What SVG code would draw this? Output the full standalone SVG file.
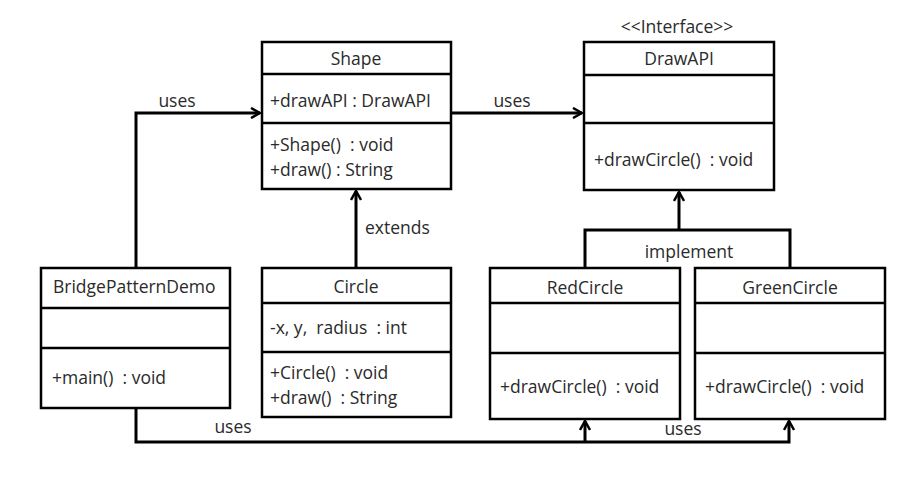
<svg xmlns="http://www.w3.org/2000/svg" width="913" height="482" viewBox="0 0 913 482">
  <style>
    .box { fill: #ffffff; stroke: #000000; stroke-width: 2.5; }
    .div { stroke: #000000; stroke-width: 2.5; }
    .wire { fill: none; stroke: #000000; stroke-width: 3; }
    text { font-family: "Open Sans", "Liberation Sans", sans-serif; font-size: 17.5px; fill: #2a2a2a; white-space: pre; }
    .title { text-anchor: middle; }
  </style>
  <defs>
    <marker id="arrow" viewBox="0 0 12 12" refX="11" refY="6" markerWidth="12" markerHeight="12" markerUnits="userSpaceOnUse" orient="auto">
      <path d="M2,1 L11,6 L2,11" fill="none" stroke="#000000" stroke-width="2.5"/>
    </marker>
  </defs>

  <rect width="913" height="482" fill="#ffffff"/>

  <g id="connectors">
    <!-- BridgePatternDemo uses Shape -->
    <path class="wire" d="M136,268 V113 H260" marker-end="url(#arrow)"/>
    <text x="177" y="107" class="title">uses</text>
    <!-- Shape uses DrawAPI -->
    <path class="wire" d="M451,113 H582" marker-end="url(#arrow)"/>
    <text x="512" y="107" class="title">uses</text>
    <!-- Circle extends Shape -->
    <path class="wire" d="M356,268 V191" marker-end="url(#arrow)"/>
    <text x="365" y="234">extends</text>
    <!-- implementations of DrawAPI -->
    <path class="wire" d="M585,268 V230 H790 V268"/>
    <path class="wire" d="M679,230 V192" marker-end="url(#arrow)"/>
    <text x="689" y="258" class="title">implement</text>
    <!-- BridgePatternDemo uses the concrete circles -->
    <path class="wire" d="M136,408 V442 H789 V421" marker-end="url(#arrow)"/>
    <path class="wire" d="M585,442 V421" marker-end="url(#arrow)"/>
    <text x="233" y="433" class="title">uses</text>
    <text x="683" y="435" class="title">uses</text>
  </g>

  <g id="shape">
    <rect class="box" x="262" y="42" width="189" height="147"/>
    <line class="div" x1="262" y1="74" x2="451" y2="74"/>
    <line class="div" x1="262" y1="123" x2="451" y2="123"/>
    <text x="356" y="65" class="title">Shape</text>
    <text x="270" y="107">+drawAPI : DrawAPI</text>
    <text x="270" y="151">+Shape()  : void</text>
    <text x="270" y="176">+draw() : String</text>
  </g>

  <g id="drawapi">
    <text x="677" y="33" class="title">&lt;&lt;Interface&gt;&gt;</text>
    <rect class="box" x="584" y="42" width="190" height="148"/>
    <line class="div" x1="584" y1="75" x2="774" y2="75"/>
    <line class="div" x1="584" y1="123" x2="774" y2="123"/>
    <text x="679" y="65" class="title">DrawAPI</text>
    <text x="594" y="166">+drawCircle()  : void</text>
  </g>

  <g id="bridgepatterndemo">
    <rect class="box" x="41" y="268" width="189" height="140"/>
    <line class="div" x1="41" y1="308" x2="230" y2="308"/>
    <line class="div" x1="41" y1="348" x2="230" y2="348"/>
    <text x="53" y="293">BridgePatternDemo</text>
    <text x="52" y="384">+main()  : void</text>
  </g>

  <g id="circle">
    <rect class="box" x="262" y="268" width="189" height="149"/>
    <line class="div" x1="262" y1="303" x2="451" y2="303"/>
    <line class="div" x1="262" y1="352" x2="451" y2="352"/>
    <text x="356" y="293" class="title">Circle</text>
    <text x="270" y="334">-x, y,  radius  : int</text>
    <text x="270" y="379">+Circle()  : void</text>
    <text x="270" y="404">+draw()  : String</text>
  </g>

  <g id="redcircle">
    <rect class="box" x="490" y="268" width="190" height="151"/>
    <line class="div" x1="490" y1="303" x2="680" y2="303"/>
    <line class="div" x1="490" y1="353" x2="680" y2="353"/>
    <text x="585" y="294" class="title">RedCircle</text>
    <text x="500" y="393">+drawCircle()  : void</text>
  </g>

  <g id="greencircle">
    <rect class="box" x="695" y="268" width="190" height="151"/>
    <line class="div" x1="695" y1="303" x2="885" y2="303"/>
    <line class="div" x1="695" y1="353" x2="885" y2="353"/>
    <text x="790" y="294" class="title">GreenCircle</text>
    <text x="705" y="393">+drawCircle()  : void</text>
  </g>
</svg>
